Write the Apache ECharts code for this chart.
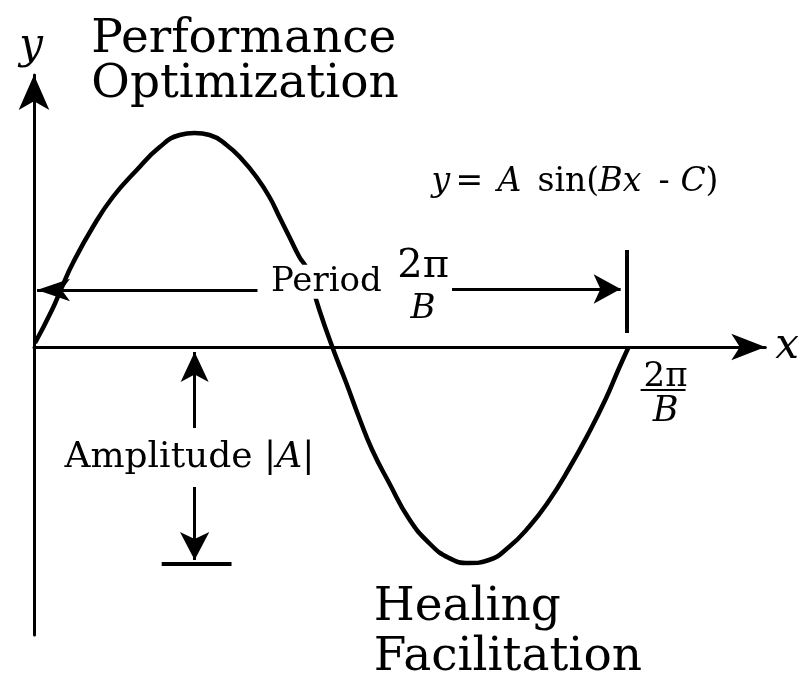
<!DOCTYPE html>
<html>
<head>
<meta charset="utf-8">
<script src="https://cdn.jsdelivr.net/npm/echarts@6/dist/echarts.min.js"></script>
<style>
html, body { margin: 0; padding: 0; background: #fff; }
#chart-container { width: 802px; height: 679px; }
</style>
</head>
<body>
<div id="chart-container"></div>
<script>
// sine curve (x along the axis, y up from the axis)
const curveX = [1, 18, 28, 39, 59, 79, 103, 126, 146, 161, 176, 193, 209, 223, 236, 246, 256, 266, 273, 286, 299,
    313, 326, 339, 356, 376, 396, 416, 436, 456, 476, 496, 516, 536, 556, 573, 586, 596];
const curveY = [4, 37, 60, 84, 120, 150, 177, 200, 212, 214, 212, 202, 187, 170, 150, 130, 110, 90, 79, 37, 0,
    -36, -71, -103, -136, -172, -196, -211, -216, -213, -200, -180, -154, -122, -86, -52, -22, 0];

// period (one full wave) and amplitude markers, same units
const periodLeft = [[3, 57], [224, 57]];
const periodRight = [[419, 58], [588, 58]];
const periodTick = [[594, 97], [594, 14]];
const ampUp = [[161, -5], [161, -81]];
const ampDown = [[161, -140], [161, -213]];
const ampBar = [[128, -217], [198, -217]];
const fracBar = [[608, -43], [653, -43]];

// texts
const titleTop = 'Performance\nOptimization';
const titleBottom = 'Healing\nFacilitation';
const ampText = '{n|Amplitude |}{i|A}{n||}';
const periodText = 'Period';
const fracText = '{a|2π}\n{b|B}';
const formulaText = '{yv|y}{eq|=}{a|A}{sin|sin(}{bx|Bx}{mi|-}{c|C}{cp|)}';

const FONT = '"DejaVu Serif", "Liberation Serif", serif';
const INK = '#000';

const myChart = echarts.init(document.getElementById('chart-container'));

function seg(p, s0, s1, width) {
    const a = { coord: p[0] };
    const b = { coord: p[1] };
    if (s0) { a.symbol = 'arrow'; a.symbolSize = s0; }
    if (s1) { b.symbol = 'arrow'; b.symbolSize = s1; }
    return [a, Object.assign(b, { lineStyle: { width: width, color: INK, type: 'solid' } })];
}

function rs(size, italic, width) {
    const s = { fontFamily: FONT, fontSize: size, color: INK, opacity: 1 };
    if (italic) s.fontStyle = 'italic';
    if (width) s.width = width;
    return s;
}

function txt(pos, text, fontSize, extra) {
    return {
        value: pos,
        label: Object.assign({
            show: true,
            formatter: text,
            position: 'right',
            distance: 0,
            color: INK,
            opacity: 1,
            fontFamily: FONT,
            fontSize: fontSize
        }, extra || {})
    };
}

const axisName = {
    fontFamily: FONT,
    fontStyle: 'italic',
    fontSize: 42,
    color: INK
};

const option = {
    animation: false,
    backgroundColor: '#fff',
    textStyle: { color: INK },
    grid: { left: 34, top: 75, width: 733, height: 560 },
    xAxis: {
        type: 'value',
        min: 0,
        max: 733,
        name: 'x',
        nameLocation: 'end',
        nameGap: 10,
        nameTextStyle: axisName,
        axisLine: {
            onZero: true,
            symbol: ['none', 'arrow'],
            symbolSize: [20, 34],
            lineStyle: { color: INK, width: 3 }
        },
        axisTick: { show: false },
        axisLabel: { show: false },
        splitLine: { show: false }
    },
    yAxis: {
        type: 'value',
        min: -288,
        max: 272,
        name: 'y',
        nameLocation: 'end',
        nameGap: 7,
        nameTextStyle: Object.assign({ padding: [0, 6, 0, 0] }, axisName),
        axisLine: {
            onZero: true,
            symbol: ['none', 'arrow'],
            symbolSize: [23, 35],
            lineStyle: { color: INK, width: 3 }
        },
        axisTick: { show: false },
        axisLabel: { show: false },
        splitLine: { show: false }
    },
    series: [
        {
            name: 'wave',
            type: 'line',
            smooth: 0.5,
            showSymbol: false,
            color: INK,
            lineStyle: { color: INK, width: 4.5 },
            data: curveX.map((x, i) => [x, curveY[i]]),
            markLine: {
                silent: true,
                symbol: 'none',
                label: { show: false },
                itemStyle: { color: INK },
                lineStyle: { color: INK, type: 'solid', width: 3 },
                data: [
                    seg(periodLeft, [17, 33], null, 3),
                    seg(periodRight, null, [22, 27], 3),
                    seg(periodTick, null, null, 4),
                    seg(ampUp, [21, 30], null, 3),
                    seg(ampDown, null, [22, 28], 3),
                    seg(ampBar, null, null, 4),
                    seg(fracBar, null, null, 2)
                ]
            }
        },
        {
            name: 'texts',
            type: 'scatter',
            z: 5,
            clip: false,
            silent: true,
            symbolSize: 1,
            itemStyle: { color: INK, opacity: 0 },
            label: { show: true, color: INK, opacity: 1 },
            data: [
                txt([57, 285], titleTop, 47, { lineHeight: 45 }),
                txt([340, -285.5], titleBottom, 47, { lineHeight: 50 }),
                txt([30, -111.1], ampText, 36, {
                    rich: { n: rs(36), i: rs(36, true) }
                }),
                txt([237, 65.2], periodText, 34, { backgroundColor: '#fff' }),
                txt([390, 59.2], fracText, 40, {
                    position: 'inside',
                    rich: {
                        a: Object.assign(rs(40), { lineHeight: 42, align: 'center' }),
                        b: Object.assign(rs(34, true), { lineHeight: 42, align: 'center' })
                    }
                }),
                txt([633, -47.3], fracText, 34, {
                    position: 'inside',
                    rich: {
                        a: Object.assign(rs(34), { lineHeight: 35, align: 'center' }),
                        b: Object.assign(rs(35, true), { lineHeight: 35, align: 'center' })
                    }
                }),
                txt([398, 164.5], formulaText, 33, {
                    rich: {
                        yv: rs(33, true, 24),
                        eq: rs(33, false, 42),
                        a: rs(33, true, 40),
                        sin: rs(33, false, 61),
                        bx: rs(33, true, 60),
                        mi: rs(33, false, 22),
                        c: rs(33, true, 25),
                        cp: rs(33)
                    }
                })
            ]
        }
    ]
};

option && myChart.setOption(option);
</script>
</body>
</html>
